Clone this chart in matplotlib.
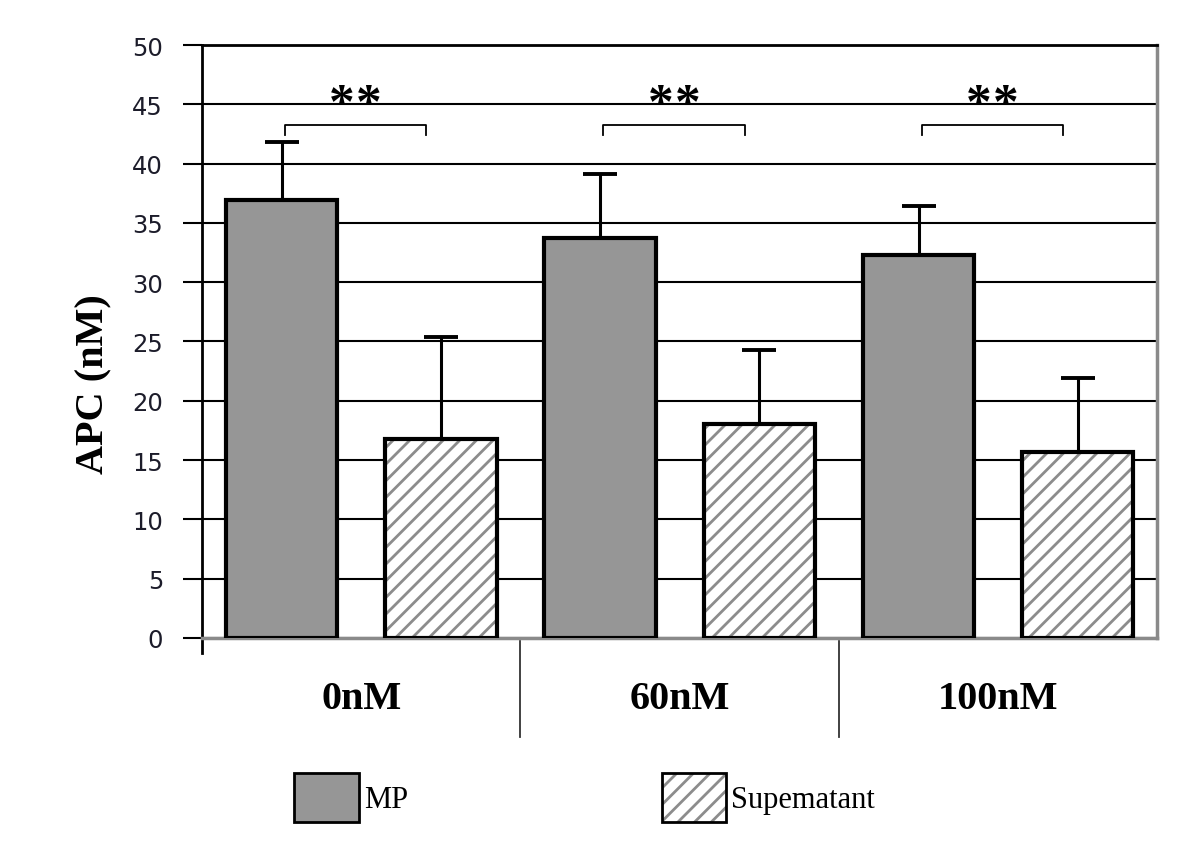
import numpy as np
import matplotlib.pyplot as plt
from matplotlib.patches import Patch
from matplotlib.transforms import blended_transform_factory

# values
groups = ["0nM", "60nM", "100nM"]
mp_mean = [36.9, 33.7, 32.3]
mp_err = [4.9, 5.4, 4.1]
sup_mean = [16.8, 18.0, 15.7]
sup_err = [8.6, 6.3, 6.2]
series = ["MP", "Supematant"]
stars = ["**", "**", "**"]
sig_y = 43.3

plt.rcParams['hatch.linewidth'] = 2.0
serif = ['Liberation Serif', 'DejaVu Serif']

fig = plt.figure(figsize=(11.81, 8.53), dpi=100)
ax = fig.add_axes([0.171, 0.251, 0.809, 0.695])

x = np.arange(len(groups))
w = 0.35
off = 0.25

ax.bar(x - off, mp_mean, w, color='#969696', edgecolor='black', linewidth=3, zorder=3)
# hatched supernatant: grey hatch first, black outline on top
ax.bar(x + off, sup_mean, w, color='white', edgecolor='#8c8c8c', linewidth=0,
       hatch='//', zorder=3)
ax.bar(x + off, sup_mean, w, color='none', edgecolor='black', linewidth=3, zorder=4)

ax.errorbar(x - off, mp_mean, yerr=[np.zeros(3), mp_err], fmt='none', ecolor='black',
            elinewidth=2.2, capsize=12, capthick=2.8, zorder=2)
ax.errorbar(x + off, sup_mean, yerr=[np.zeros(3), sup_err], fmt='none', ecolor='black',
            elinewidth=2.2, capsize=12, capthick=2.8, zorder=2)

# significance brackets
for i, s in enumerate(stars):
    l, r = x[i] - 0.24, x[i] + 0.205
    ax.plot([l, l, r, r], [sig_y - 0.85, sig_y, sig_y, sig_y - 0.85], color='black',
            lw=1.3, zorder=5)
    # draw each star separately for wider spacing
    for k, ch in enumerate(s):
        ax.annotate(ch, ((l + r) / 2, sig_y + 0.6), xytext=((k - 0.5) * 19.5, 0),
                    textcoords='offset points', ha='center', va='baseline',
                    fontsize=37, fontweight='bold', family=serif, zorder=5)

ax.set_xlim(-0.5, 2.5)
ax.set_ylim(0, 50)
ax.set_yticks(np.arange(0, 51, 5))
ax.tick_params(axis='y', length=14, width=1.5, pad=14, labelsize=17.5, labelcolor='#1c1c2a')
ax.set_xticks(x, groups)
ax.tick_params(axis='x', length=0, pad=30)
for t in ax.get_xticklabels():
    t.set_fontsize(29)
    t.set_fontweight('bold')
    t.set_family(serif)

ax.yaxis.grid(True, color='black', lw=1.5)
ax.set_axisbelow(True)

ax.spines['left'].set_linewidth(2)
ax.spines['left'].set_bounds(-1.3, 50)
ax.spines['top'].set_linewidth(2)
ax.spines['right'].set_color('#8a8a8a')
ax.spines['right'].set_linewidth(2.5)
ax.spines['bottom'].set_color('#8a8a8a')
ax.spines['bottom'].set_linewidth(2.5)

# category separators below the axis
tr = blended_transform_factory(ax.transData, ax.transAxes)
for xs in [0.5, 1.5]:
    ax.plot([xs, xs], [-0.005, -0.167], transform=tr, color='#333333', lw=1.3,
            clip_on=False)

ax.set_ylabel("APC (nM)", fontsize=29, fontweight='bold', family=serif)
ax.yaxis.set_label_coords(-0.094, 0.43)

h_mp = Patch(facecolor='#969696', edgecolor='black', linewidth=2)
h_sup = (Patch(facecolor='white', edgecolor='#8c8c8c', linewidth=0, hatch='//'),
         Patch(facecolor='none', edgecolor='black', linewidth=2))
fig.legend([h_mp, h_sup], series, loc='center', bbox_to_anchor=(0.495, 0.064), ncol=2,
           frameon=False, prop={'family': serif, 'size': 22},
           handlelength=2.12, handleheight=2.08, handletextpad=0.15, columnspacing=8.3)

fig.savefig("out.png", dpi=100)
